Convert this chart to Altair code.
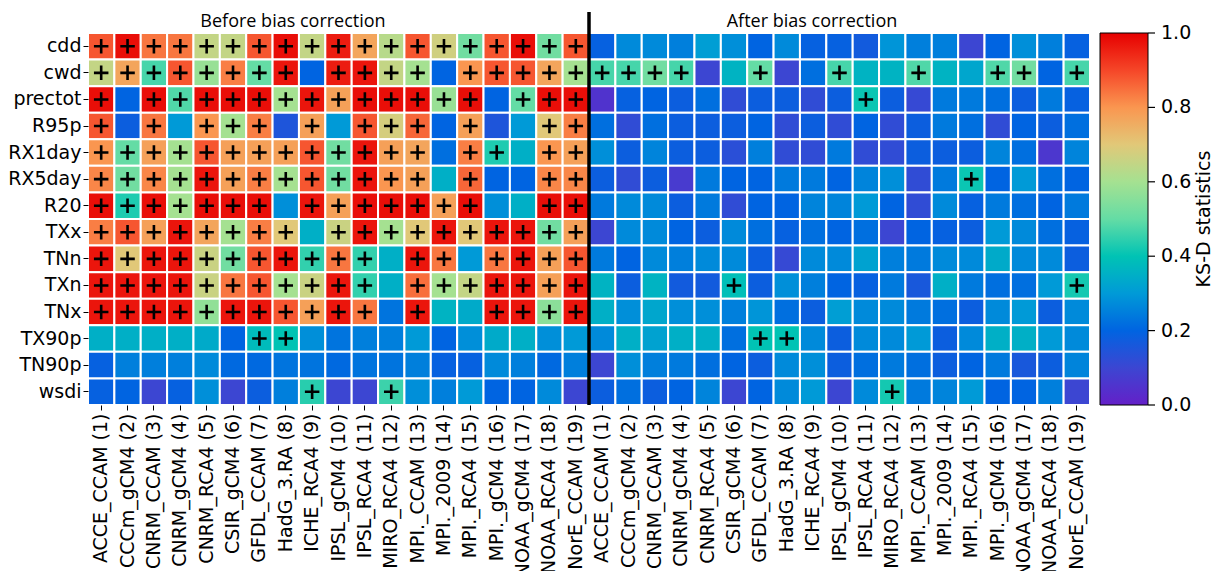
import altair as alt
import pandas as pd

indices = ["cdd", "cwd", "prectot", "R95p", "RX1day", "RX5day", "R20",
           "TXx", "TNn", "TXn", "TNx", "TX90p", "TN90p", "wsdi"]

models = ["ACCE_CCAM (1)", "CCCm_gCM4 (2)", "CNRM_CCAM (3)", "CNRM_gCM4 (4)",
          "CNRM_RCA4 (5)", "CSIR_gCM4 (6)", "GFDL_CCAM (7)", "HadG_3.RA (8)",
          "ICHE_RCA4 (9)", "IPSL_gCM4 (10)", "IPSL_RCA4 (11)", "MIRO_RCA4 (12)",
          "MPI._CCAM (13)", "MPI._2009 (14)", "MPI._RCA4 (15)", "MPI._gCM4 (16)",
          "NOAA_gCM4 (17)", "NOAA_RCA4 (18)", "NorE_CCAM (19)"]

# KS-D statistics before bias correction (one list per index, models 1..19)
before = {
    "cdd":     [0.88, 0.98, 0.84, 0.84, 0.65, 0.65, 0.88, 0.98, 0.65, 0.96, 0.77, 0.63, 0.88, 0.67, 0.52, 0.88, 0.98, 0.52, 0.88],
    "cwd":     [0.65, 0.77, 0.47, 0.88, 0.58, 0.83, 0.50, 0.97, 0.20, 0.96, 0.97, 0.65, 0.60, 0.20, 0.80, 0.88, 0.88, 0.77, 0.60],
    "prectot": [0.98, 0.20, 0.98, 0.48, 0.98, 0.98, 0.98, 0.60, 0.97, 0.78, 0.98, 0.98, 0.98, 0.58, 0.98, 0.20, 0.50, 0.98, 0.98],
    "R95p":    [0.88, 0.18, 0.84, 0.30, 0.80, 0.60, 0.83, 0.15, 0.78, 0.30, 0.88, 0.68, 0.86, 0.20, 0.78, 0.15, 0.30, 0.70, 0.83],
    "RX1day":  [0.80, 0.50, 0.78, 0.60, 0.88, 0.78, 0.78, 0.78, 0.88, 0.52, 0.97, 0.78, 0.77, 0.22, 0.83, 0.43, 0.35, 0.80, 0.78],
    "RX5day":  [0.82, 0.52, 0.82, 0.60, 0.97, 0.78, 0.83, 0.60, 0.88, 0.52, 0.97, 0.80, 0.78, 0.35, 0.86, 0.20, 0.20, 0.82, 0.82],
    "R20":     [0.98, 0.43, 0.98, 0.60, 0.98, 0.98, 0.98, 0.28, 0.97, 0.78, 0.98, 0.98, 0.98, 0.78, 0.98, 0.28, 0.35, 0.98, 0.98],
    "TXx":     [0.83, 0.88, 0.78, 0.97, 0.77, 0.60, 0.83, 0.70, 0.35, 0.66, 0.97, 0.60, 0.70, 0.97, 0.70, 0.97, 0.97, 0.52, 0.78],
    "TNn":     [0.97, 0.70, 0.97, 0.97, 0.66, 0.52, 0.88, 0.97, 0.45, 0.84, 0.45, 0.35, 0.97, 0.84, 0.30, 0.84, 0.97, 0.78, 0.88],
    "TXn":     [0.97, 0.97, 0.97, 0.97, 0.66, 0.84, 0.88, 0.60, 0.66, 0.97, 0.45, 0.35, 0.85, 0.60, 0.65, 0.97, 0.97, 0.78, 0.97],
    "TNx":     [0.97, 0.97, 0.97, 0.97, 0.57, 0.97, 0.97, 0.88, 0.78, 0.97, 0.84, 0.23, 0.97, 0.36, 0.34, 0.97, 0.97, 0.56, 0.97],
    "TX90p":   [0.35, 0.35, 0.35, 0.35, 0.34, 0.20, 0.38, 0.40, 0.28, 0.23, 0.25, 0.25, 0.30, 0.20, 0.28, 0.34, 0.35, 0.28, 0.30],
    "TN90p":   [0.19, 0.25, 0.25, 0.25, 0.27, 0.21, 0.21, 0.23, 0.23, 0.21, 0.23, 0.23, 0.25, 0.19, 0.19, 0.27, 0.25, 0.21, 0.25],
    "wsdi":    [0.19, 0.20, 0.10, 0.19, 0.28, 0.10, 0.18, 0.25, 0.44, 0.10, 0.10, 0.46, 0.28, 0.25, 0.30, 0.20, 0.20, 0.27, 0.10],
}

# KS-D statistics after bias correction
after = {
    "cdd":     [0.19, 0.27, 0.27, 0.25, 0.31, 0.28, 0.20, 0.27, 0.19, 0.19, 0.17, 0.29, 0.25, 0.25, 0.10, 0.20, 0.28, 0.25, 0.19],
    "cwd":     [0.47, 0.47, 0.52, 0.47, 0.10, 0.36, 0.50, 0.10, 0.22, 0.47, 0.36, 0.36, 0.48, 0.36, 0.33, 0.48, 0.52, 0.20, 0.47],
    "prectot": [0.05, 0.19, 0.20, 0.18, 0.22, 0.12, 0.18, 0.18, 0.12, 0.18, 0.41, 0.18, 0.11, 0.24, 0.24, 0.22, 0.18, 0.24, 0.19],
    "R95p":    [0.22, 0.12, 0.22, 0.18, 0.18, 0.18, 0.20, 0.12, 0.18, 0.12, 0.20, 0.12, 0.18, 0.24, 0.22, 0.12, 0.20, 0.18, 0.22],
    "RX1day":  [0.28, 0.18, 0.26, 0.18, 0.18, 0.13, 0.25, 0.12, 0.12, 0.24, 0.12, 0.12, 0.18, 0.18, 0.18, 0.26, 0.22, 0.06, 0.26],
    "RX5day":  [0.18, 0.12, 0.18, 0.07, 0.24, 0.20, 0.20, 0.24, 0.24, 0.20, 0.26, 0.28, 0.12, 0.24, 0.41, 0.20, 0.30, 0.22, 0.20],
    "R20":     [0.24, 0.27, 0.27, 0.18, 0.24, 0.12, 0.20, 0.20, 0.26, 0.26, 0.30, 0.20, 0.12, 0.27, 0.19, 0.24, 0.22, 0.20, 0.24],
    "TXx":     [0.10, 0.27, 0.27, 0.20, 0.18, 0.27, 0.22, 0.19, 0.22, 0.20, 0.22, 0.10, 0.20, 0.19, 0.18, 0.30, 0.27, 0.22, 0.19],
    "TNn":     [0.24, 0.20, 0.27, 0.25, 0.27, 0.27, 0.18, 0.11, 0.27, 0.27, 0.32, 0.25, 0.24, 0.27, 0.27, 0.34, 0.27, 0.27, 0.18],
    "TXn":     [0.36, 0.18, 0.36, 0.17, 0.17, 0.39, 0.18, 0.28, 0.25, 0.20, 0.19, 0.24, 0.16, 0.35, 0.24, 0.22, 0.22, 0.30, 0.42],
    "TNx":     [0.35, 0.28, 0.33, 0.28, 0.28, 0.25, 0.29, 0.22, 0.18, 0.31, 0.27, 0.27, 0.24, 0.22, 0.18, 0.27, 0.30, 0.18, 0.27],
    "TX90p":   [0.27, 0.35, 0.32, 0.35, 0.35, 0.22, 0.40, 0.40, 0.27, 0.18, 0.27, 0.27, 0.30, 0.18, 0.27, 0.35, 0.35, 0.30, 0.27],
    "TN90p":   [0.10, 0.28, 0.25, 0.24, 0.22, 0.20, 0.18, 0.27, 0.28, 0.18, 0.22, 0.24, 0.22, 0.18, 0.20, 0.24, 0.16, 0.18, 0.26],
    "wsdi":    [0.18, 0.22, 0.18, 0.20, 0.26, 0.10, 0.20, 0.27, 0.30, 0.10, 0.27, 0.42, 0.24, 0.26, 0.30, 0.20, 0.20, 0.25, 0.10],
}

ALL = list(range(1, 20))
# models (1-based) marked with "+"
before_plus = {
    "cdd": ALL,
    "cwd": [m for m in ALL if m not in (9, 14)],
    "prectot": [m for m in ALL if m not in (2, 16)],
    "R95p": [1, 3, 5, 6, 7, 9, 11, 12, 13, 15, 18, 19],
    "RX1day": [m for m in ALL if m not in (14, 17)],
    "RX5day": [m for m in ALL if m not in (14, 16, 17)],
    "R20": [m for m in ALL if m not in (8, 16, 17)],
    "TXx": [m for m in ALL if m != 9],
    "TNn": [m for m in ALL if m not in (12, 15)],
    "TXn": [m for m in ALL if m != 12],
    "TNx": [m for m in ALL if m not in (12, 14, 15)],
    "TX90p": [7, 8],
    "TN90p": [],
    "wsdi": [9, 12],
}
after_plus = {
    "cwd": [1, 2, 3, 4, 7, 10, 13, 16, 17, 19],
    "prectot": [11],
    "RX5day": [15],
    "TXn": [6, 19],
    "TX90p": [7, 8],
    "wsdi": [12],
}

cbar_stops = [0.0, 0.1, 0.2, 0.3, 0.4, 0.5, 0.6, 0.7, 0.8, 0.9, 1.0]
cbar_colors = ["#6420c8", "#3c46d2", "#0064e1", "#009ad7", "#00c3b4", "#64dca5",
               "#a5e191", "#e1c878", "#fa9650", "#f54628", "#e60000"]
cbar_ticks = [0.0, 0.2, 0.4, 0.6, 0.8, 1.0]
cbar_labels = ["0.0", "0.2", "0.4", "0.6", "0.8", "1.0"]

rows = []
for idx in indices:
    for j in range(19):
        rows.append({"index": idx, "col": j, "value": before[idx][j],
                     "plus": (j + 1) in before_plus.get(idx, [])})
        rows.append({"index": idx, "col": 19 + j, "value": after[idx][j],
                     "plus": (j + 1) in after_plus.get(idx, [])})
df = pd.DataFrame(rows)

names_js = "[" + ",".join("'" + m + "'" for m in models) + "]"

FONT = "DejaVu Sans"
xenc = alt.X("col:O",
             scale=alt.Scale(paddingInner=0, paddingOuter=0),
             axis=alt.Axis(title=None, labelExpr=names_js + "[datum.value % 19]",
                           labelAngle=270, labelFontSize=19, labelFont=FONT,
                           labelColor="black", tickColor="black", tickSize=5,
                           labelPadding=3, domain=False, labelOverlap=False))
yenc = alt.Y("index:N", sort=indices,
             scale=alt.Scale(paddingInner=0, paddingOuter=0),
             axis=alt.Axis(title=None, labelFontSize=19, labelFont=FONT,
                           labelColor="black", tickColor="black", tickSize=5,
                           labelPadding=2, domain=False))

base = alt.Chart(df)

rect = base.mark_rect(stroke="white", strokeWidth=2).encode(
    x=xenc, y=yenc,
    color=alt.Color("value:Q",
                    scale=alt.Scale(domain=cbar_stops, range=cbar_colors,
                                    interpolate="rgb"),
                    legend=alt.Legend(title=None, labelOpacity=0,
                                      values=cbar_ticks,
                                      gradientLength=372, gradientThickness=48,
                                      gradientStrokeColor="black",
                                      gradientStrokeWidth=1,
                                      offset=10)),
)

plus = base.transform_filter("datum.plus").mark_point(
    shape="M-1,0L1,0M0,-1L0,1", size=210, color="black", filled=False,
    strokeWidth=2.6, opacity=1,
).encode(x=xenc, y=yenc)

divider = alt.Chart(pd.DataFrame({"col": [19]})).mark_rule(
    color="black", strokeWidth=3.5
).encode(x=alt.X("col:O", bandPosition=0), y=alt.value(-21), y2=alt.value(372))

t_before = alt.Chart(pd.DataFrame({"t": ["Before bias correction"]})).mark_text(
    font="Open Sans", fontSize=18, color="black", baseline="middle"
).encode(text="t:N", x=alt.value(205), y=alt.value(-11))

t_after = alt.Chart(pd.DataFrame({"t": ["After bias correction"]})).mark_text(
    font="Open Sans", fontSize=18, color="black", baseline="middle"
).encode(text="t:N", x=alt.value(724), y=alt.value(-11))

t_cbar = alt.Chart(pd.DataFrame({"t": ["KS-D statistics"]})).mark_text(
    font=FONT, fontSize=19, color="black", baseline="middle", angle=270
).encode(text="t:N", x=alt.value(1116), y=alt.value(186))

cbar_df = pd.DataFrame({"v": cbar_ticks, "lab": cbar_labels})
cbar_y = alt.Y("v:Q", scale=alt.Scale(domain=[0, 1]), axis=None)

cbar_tick_marks = alt.Chart(cbar_df).mark_rule(
    color="black", strokeWidth=1.2
).encode(y=cbar_y, x=alt.value(1060), x2=alt.value(1067))

cbar_tick_labels = alt.Chart(cbar_df).mark_text(
    font=FONT, fontSize=19, color="black", align="left", baseline="middle"
).encode(y=cbar_y, x=alt.value(1073), text="lab:N")

heat = alt.layer(rect, plus, divider, t_before, t_after, t_cbar)
cbar = alt.layer(cbar_tick_marks, cbar_tick_labels)

chart = alt.layer(heat, cbar).resolve_scale(y="independent").properties(
    width=1002, height=372,
    padding={"left": 88, "top": 33, "right": 126, "bottom": 166},
    autosize=alt.AutoSizeParams(type="none"),
).configure_view(stroke=None).configure(background="white")

chart.save("out.html", embed_options={"renderer": "svg", "actions": False})
